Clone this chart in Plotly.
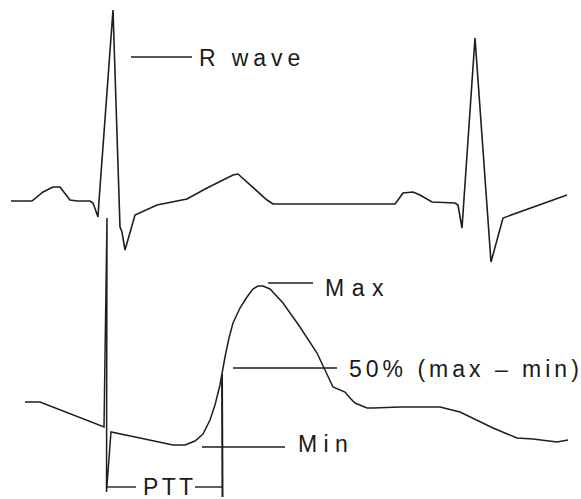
import plotly.graph_objects as go

# ECG waveform (schematic, pixel-like units)
ecg_x = [11, 32, 43, 53, 60, 65, 70, 77, 90, 93, 97, 98, 99, 113, 120, 122, 125, 135, 157, 187, 207, 233, 238, 247, 267, 273,
         395, 398, 403, 413, 420, 432, 455, 458, 462, 475, 491, 503, 533, 567]
ecg_y = [201, 201, 192, 187, 187, 193, 200, 201, 201, 203, 215, 217, 201, 10, 227, 232, 250, 215, 205, 199, 188, 175, 174, 182, 200, 204,
         204, 200, 193, 192, 195, 202, 203, 205, 228, 38, 262, 218, 207, 195]

# PPG waveform (with the R-wave marker spike)
ppg_x = [25, 40, 104, 107, 106.5, 111, 140, 173, 185, 195, 203, 210, 215, 220, 225, 229, 233, 240, 247, 253, 258, 263, 270, 283,
         300, 317, 333, 340, 345, 350, 355, 367, 373, 400, 440, 460, 493, 517, 533, 557, 568]
ppg_y = [402, 402, 427, 218, 492, 432, 438, 445, 445, 441, 434, 420, 405, 385, 357, 338, 323, 308, 297, 289, 286, 286, 289, 303,
         327, 353, 387, 390, 392, 398, 403, 408, 408, 407, 407, 412, 428, 438, 439, 442, 440]

# 50% marker (vertical line at PPG foot)
mark_x = [222, 222.5]
mark_y = [374, 497]

# Leader lines: (x0, x1, y)
leaders = {
    "R wave": (131, 192, 57),
    "Max": (268, 313, 283),
    "50% (max – min)": (233, 337, 368),
    "Min": (202, 285, 447),
}
ptt_left = (106, 136, 487)
ptt_right = (195, 222.5, 487)

labels = ["R wave", "Max", "50% (max – min)", "Min", "PTT"]
label_x = [197, 323, 347, 296, 141]
label_y = [58, 288, 369, 444, 487]
label_spacing = [4.9, 7.5, 4.0, 6.3, 3.3]

line_col = "#1e1e1e"
fig = go.Figure()
fig.add_trace(go.Scatter(x=ecg_x, y=ecg_y, mode="lines", line=dict(color=line_col, width=1.6), hoverinfo="skip"))
fig.add_trace(go.Scatter(x=ppg_x, y=ppg_y, mode="lines", line=dict(color=line_col, width=1.5), hoverinfo="skip"))
fig.add_trace(go.Scatter(x=mark_x, y=mark_y, mode="lines", line=dict(color=line_col, width=2), hoverinfo="skip"))
for name, (x0, x1, y) in leaders.items():
    fig.add_trace(go.Scatter(x=[x0, x1], y=[y, y], mode="lines", line=dict(color=line_col, width=1.4), hoverinfo="skip"))
for (x0, x1, y) in (ptt_left, ptt_right):
    fig.add_trace(go.Scatter(x=[x0, x1], y=[y, y], mode="lines", line=dict(color=line_col, width=1.4), hoverinfo="skip"))

for t, x, y, sp in zip(labels, label_x, label_y, label_spacing):
    fig.add_annotation(x=x, y=y, xref="x", yref="y", xanchor="left", yanchor="middle", showarrow=False,
                       text=f'<span style="letter-spacing:{sp}px">{t[:-1]}</span>{t[-1]}',
                       font=dict(family="Arial, Liberation Sans, sans-serif", size=23, color="#1a1a1a"))

fig.update_layout(width=581, height=499, margin=dict(l=0, r=0, t=0, b=0), showlegend=False,
                  plot_bgcolor="white", paper_bgcolor="white")
fig.update_xaxes(range=[0, 581], visible=False, fixedrange=True)
fig.update_yaxes(range=[499, 0], visible=False, fixedrange=True)
fig.write_html("out.html", config={"displayModeBar": False},
               post_script="document.body.style.margin='0';document.body.style.overflow='hidden';")
